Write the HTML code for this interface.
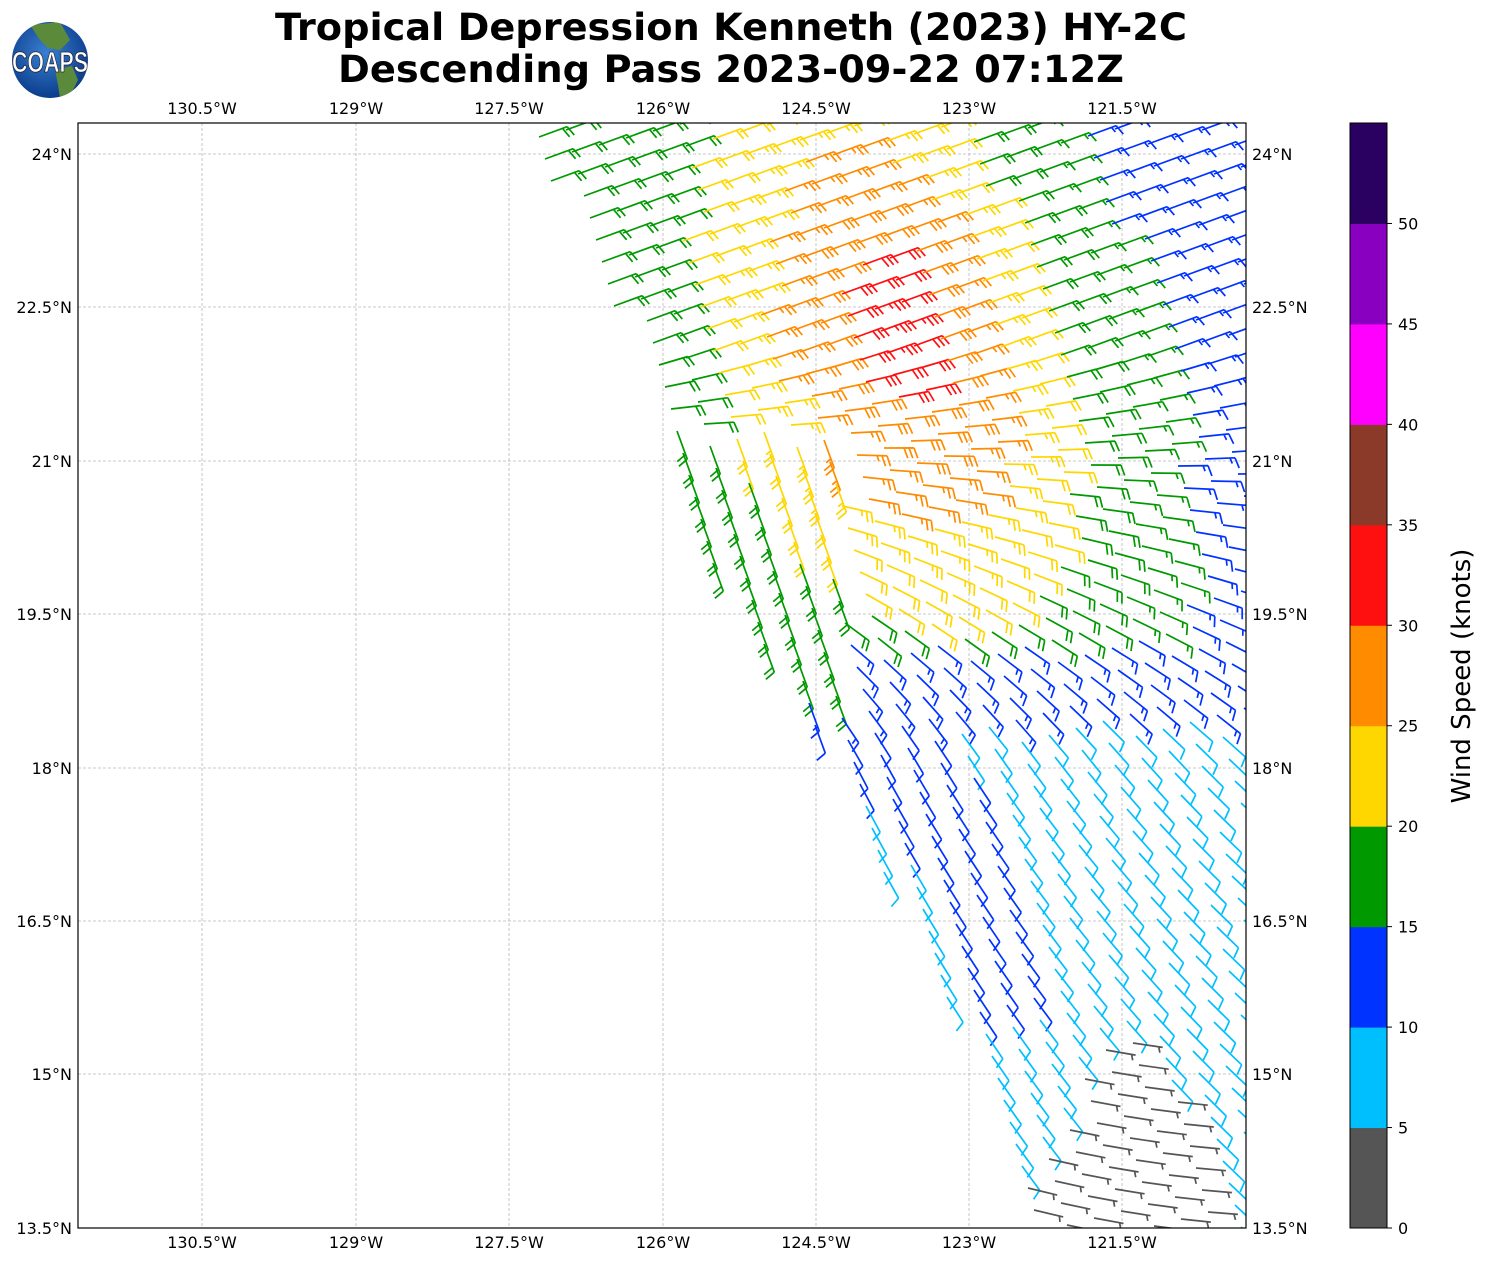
<!DOCTYPE html>
<html><head><meta charset="utf-8"><style>
html,body{margin:0;padding:0;background:#fff;}
body{width:1487px;height:1264px;overflow:hidden;font-family:"DejaVu Sans",sans-serif;}
</style></head><body>
<svg id="s" width="1487" height="1264" xmlns="http://www.w3.org/2000/svg" font-family="DejaVu Sans, sans-serif">
<defs>
<radialGradient id="gl" cx="45%" cy="40%" r="60%"><stop offset="0" stop-color="#3a7fd0"/><stop offset="1" stop-color="#0b3d8c"/></radialGradient>
<clipPath id="pc"><rect x="78" y="123" width="1168" height="1105"/></clipPath>
<clipPath id="gc"><circle cx="50" cy="60" r="38"/></clipPath>
</defs>
<circle cx="50" cy="60" r="38" fill="url(#gl)"/>
<g clip-path="url(#gc)" fill="#5a8a3a">
<path d="M30 25 L60 22 L70 40 L60 50 L48 48 L40 40 Z"/>
<path d="M55 70 L72 66 L78 80 L68 100 L60 98 L58 85 Z"/>
</g>
<text x="50" y="72" text-anchor="middle" font-family="Liberation Sans, sans-serif" font-size="29" font-weight="bold" fill="#fff" stroke="#223" stroke-width="0.8" textLength="76" lengthAdjust="spacingAndGlyphs">COAPS</text>
<text x="731" y="40" text-anchor="middle" font-size="37" font-weight="bold" textLength="912" lengthAdjust="spacingAndGlyphs">Tropical Depression Kenneth (2023) HY-2C</text>
<text x="731" y="82" text-anchor="middle" font-size="37" font-weight="bold" textLength="786" lengthAdjust="spacingAndGlyphs">Descending Pass 2023-09-22 07:12Z</text>
<g id="grid" stroke="#b8b8b8" stroke-width="0.8" stroke-dasharray="3,2"></g>
<g id="barbs" clip-path="url(#pc)" fill="none" stroke-width="1.7" stroke-linecap="butt"></g>
<rect x="78" y="123" width="1168" height="1105" fill="none" stroke="#000" stroke-width="1.2"/>
<g id="labels" font-size="16" fill="#000"></g>
<g id="cb"></g>
<text transform="translate(1470,676) rotate(-90)" text-anchor="middle" font-size="26">Wind Speed (knots)</text>
</svg>
<script>
var NS="http://www.w3.org/2000/svg";
function el(p,t,a,txt){var e=document.createElementNS(NS,t);for(var k in a)e.setAttribute(k,a[k]);if(txt!=null)e.textContent=txt;p.appendChild(e);return e;}
var grid=document.getElementById('grid'),lab=document.getElementById('labels'),bg=document.getElementById('barbs'),cb=document.getElementById('cb');
var lons=[["130.5°W",202],["129°W",356],["127.5°W",509],["126°W",663],["124.5°W",816],["123°W",969],["121.5°W",1122]];
var lats=[["24°N",154],["22.5°N",307],["21°N",461],["19.5°N",614],["18°N",768],["16.5°N",921],["15°N",1074],["13.5°N",1228]];
lons.forEach(function(l){el(grid,'line',{x1:l[1],x2:l[1],y1:123,y2:1228});
 el(lab,'text',{x:l[1],y:114,'text-anchor':'middle'},l[0]);el(lab,'text',{x:l[1],y:1248,'text-anchor':'middle'},l[0]);});
lats.forEach(function(l){if(l[1]<1228&&l[1]>123)el(grid,'line',{x1:78,x2:1246,y1:l[1],y2:l[1]});
 el(lab,'text',{x:72,y:l[1]+6,'text-anchor':'end'},l[0]);el(lab,'text',{x:1252,y:l[1]+6},l[0]);});
var cols=["#555555","#00bfff","#0033ff","#009900","#ffd700","#ff8c00","#ff1010","#8b3a2a","#ff00ff","#8a00c0","#2a0060"];
var h=1105/11;
for(var i=0;i<11;i++){el(cb,'rect',{x:1350,y:1228-(i+1)*h,width:37,height:h+0.5,fill:cols[i]});}
el(cb,'rect',{x:1350,y:123,width:37,height:1105,fill:'none',stroke:'#000','stroke-width':1});
for(var i=0;i<=10;i++){var y=1228-i*h;el(cb,'line',{x1:1387,x2:1392,y1:y,y2:y,stroke:'#000'});el(cb,'text',{x:1398,y:y+6,'font-size':16},String(i*5));}
var LE=[[123,520],[300,610],[400,665],[480,680],[540,700],[750,825],[1000,950],[1228,1040]];
function xl(y){if(y<123)return 520;for(var i=0;i<LE.length-1;i++){if(y<=LE[i+1][0]){var t=(y-LE[i][0])/(LE[i+1][0]-LE[i][0]);return LE[i][1]+t*(LE[i+1][1]-LE[i][1]);}}return 1040;}
function speed(x,y){
 if(y>1025 && x<1222 && x>1100-(y-1050)*0.6 && y>1025+(x-1150)*2.5) return 2.6+((Math.round(x)*7+Math.round(y)*3)%5)*0.5;
 var base;
 if(y>650+(x-1050)*0.4 && y>600) base=8; else base=12.5;
 var ax=890,ay=680,bx=1020,by=1020;var vx=bx-ax,vy=by-ay;var t=((x-ax)*vx+(y-ay)*vy)/(vx*vx+vy*vy);
 if(t>-0.3&&t<1){var px=ax+t*vx,py=ay+t*vy;var dd=Math.hypot(x-px,y-py);if(dd<45)base=12;}
 if(x<880&&y>680&&y<800)base=12;
 if(y>720)return base;
 var ox=x-895,oy=y-330;var al=ox*0.35+oy*0.94,ac=ox*0.94-oy*0.35;
 var left=ac<0;
 if(left)ac*=0.7;
 var d=Math.sqrt((al/2.2)*(al/2.2)+ac*ac);
 var s=d<140?34-0.1*d:20-(left?0.025:0.05)*(d-140);
 if(y>640)s=Math.min(s,14.9+(y<700&&x<840?3:0));
 return Math.max(s,base);}
function col(s){var i=Math.floor(s/5);if(i<0)i=0;if(i>10)i=10;return cols[i];}
function barb(x,y,s){
 var c=col(s);
 if(s<2.5){el(bg,'circle',{cx:x,cy:y,r:5,stroke:c});return;}
 var t=Math.max(0,Math.min(1,(y-350)/400));
 var a=-20+80*t - 15*t*(x-900)/300;
 if(x<840&&y>430&&y<780)a=Math.max(a,70);
 if(s<5)a=a-40;
 a=a*Math.PI/180;var ux=Math.cos(a),uy=Math.sin(a);
 var L=30;var ex=x+L*ux,ey=y+L*uy;
 var fa=a+70*Math.PI/180,fx=Math.cos(fa),fy=Math.sin(fa);
 var d="M"+x.toFixed(1)+" "+y.toFixed(1)+"L"+ex.toFixed(1)+" "+ey.toFixed(1);
 var r=Math.round(s/5)*5;var full=Math.floor(r/10),half=(r%10)>=5?1:0;
 if(r==0)half=1;
 var pos=0;
 for(var k=0;k<full;k++){var bx=ex-pos*ux,by=ey-pos*uy;d+="M"+bx.toFixed(1)+" "+by.toFixed(1)+"l"+(11*fx).toFixed(1)+" "+(11*fy).toFixed(1);pos+=5;}
 if(half){if(full==0)pos=4;var bx=ex-pos*ux,by=ey-pos*uy;d+="M"+bx.toFixed(1)+" "+by.toFixed(1)+"l"+(6*fx).toFixed(1)+" "+(6*fy).toFixed(1);}
 el(bg,'path',{d:d,stroke:c});}
for(var i=-20;i<60;i++){for(var j=-10;j<70;j++){
 var x=500+i*27+j*6, y=100-i*7+j*22;
 if(y<105||y>1235||x>1250||x<480)continue;
 if(x<xl(y)-2)continue;
 barb(x,y,speed(x,y));}}
</script>
</body></html>
